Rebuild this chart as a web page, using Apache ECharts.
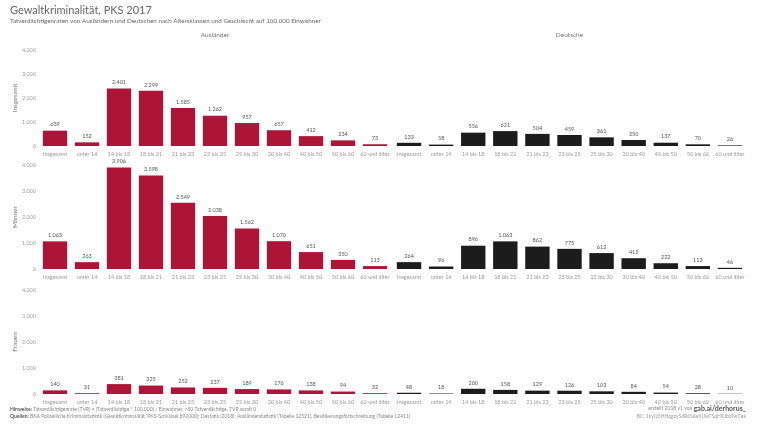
<!DOCTYPE html>
<html><head><meta charset="utf-8">
<script src="https://cdn.jsdelivr.net/npm/echarts@6/dist/echarts.min.js"></script>
<style>html,body{margin:0;padding:0;background:#fff}#c{width:768px;height:432px}</style>
</head><body><div id="c"></div>
<script>
const categories = ['Insgesamt','unter 14','14 bis 18','18 bis 21','21 bis 23','23 bis 25','25 bis 30','30 bis 40','40 bis 50','50 bis 60','60 und älter'];
const rowNames = ['Insgesamt','Männer','Frauen'];
const colNames = ['Ausländer','Deutsche'];
const yTicks = [0, 1000, 2000, 3000, 4000];

const auslInsgesamt = [639, 152, 2401, 2299, 1585, 1262, 957, 657, 412, 234, 73];
const deutInsgesamt = [133, 58, 556, 621, 504, 459, 361, 250, 137, 70, 26];
const auslMaenner = [1063, 263, 3906, 3598, 2549, 2038, 1562, 1070, 651, 350, 113];
const deutMaenner = [264, 96, 896, 1063, 862, 775, 612, 415, 222, 113, 46];
const auslFrauen = [140, 31, 381, 325, 252, 237, 189, 176, 138, 94, 32];
const deutFrauen = [48, 18, 200, 158, 129, 126, 103, 84, 54, 28, 10];

const data = [[auslInsgesamt, deutInsgesamt],[auslMaenner, deutMaenner],[auslFrauen, deutFrauen]];
const colors = ['#AD1538', '#1C1C1C'];
const FONT = 'Lato';
const fmt = v => String(v).replace(/\B(?=(\d{3})+(?!\d))/g, '.');

const rowTops = [50, 165, 290];
const rowHeights = [96, 104, 104];
const colLefts = [39, 393];
const colWidths = [352, 353];

const grid = [], xAxis = [], yAxis = [], series = [];
let idx = 0;
for (let r = 0; r < 3; r++) {
  for (let c = 0; c < 2; c++) {
    grid.push({left: colLefts[c], top: rowTops[r], width: colWidths[c], height: rowHeights[r], containLabel: false});
    xAxis.push({
      type: 'category', gridIndex: idx, data: categories,
      axisLine: {show: false}, axisTick: {show: false},
      axisLabel: {interval: 0, fontSize: 5.5, color: '#9a9a9a', fontFamily: FONT, margin: 5}
    });
    yAxis.push({
      type: 'value', gridIndex: idx, min: 0, max: 4000, interval: 1000,
      splitLine: {show: false}, axisLine: {show: false}, axisTick: {show: false},
      axisLabel: {show: c === 0, fontSize: 5.5, color: '#a0a0a0', fontFamily: FONT, margin: 3, formatter: v => fmt(v)},
      name: c === 0 ? rowNames[r] : '', nameLocation: 'middle', nameGap: 14, nameRotate: 90,
      nameTextStyle: {fontSize: 6.5, color: '#777', fontFamily: FONT}
    });
    series.push({
      type: 'bar', xAxisIndex: idx, yAxisIndex: idx, data: data[r][c],
      barWidth: '76%', itemStyle: {color: colors[c]},
      label: {show: true, position: 'top', distance: 3, fontSize: 5.5, color: '#555', fontFamily: FONT, formatter: p => fmt(p.value)},
      silent: true, animation: false
    });
    idx++;
  }
}

const chart = echarts.init(document.getElementById('c'), null, {renderer: 'canvas'});
chart.setOption({
  animation: false,
  textStyle: {fontFamily: FONT},
  grid, xAxis, yAxis, series,
  graphic: [
    {type: 'text', left: 10, top: 5, style: {text: 'Gewaltkriminalität, PKS 2017', font: '11px ' + FONT, fill: '#666'}},
    {type: 'text', left: 10, top: 18, style: {text: 'Tatverdächtigenraten von Ausländern und Deutschen nach Altersklassen und Geschlecht auf 100.000 Einwohner', font: '6.3px ' + FONT, fill: '#666'}},
    {type: 'text', x: colLefts[0] + colWidths[0] / 2, y: 31, style: {text: colNames[0], font: '6.5px ' + FONT, fill: '#777', align: 'center'}},
    {type: 'text', x: colLefts[1] + colWidths[1] / 2, y: 31, style: {text: colNames[1], font: '6.5px ' + FONT, fill: '#777', align: 'center'}},
    {type: 'text', left: 10, top: 406, style: {
      text: '{b|Hinweise:} Tatverdächtigenrate (TVR) = (Tatverdächtige * 100.000) / Einwohner, <50 Tatverdächtige, TVR somit 0\n{b|Quellen:} BKA Polizeiliche Kriminalstatistik (Gewaltkriminalität, PKS-Schlüssel 892000); Destatis (2018): Ausländerstatistik (Tabelle 12521), Bevölkerungsfortschreibung (Tabelle 12411)',
      font: '5px ' + FONT, fill: '#888', lineHeight: 7,
      rich: {b: {fontWeight: 'bold', fill: '#555', fontSize: 5, fontFamily: FONT}}
    }},
    {type: 'text', right: 22, top: 405, style: {
      text: 'erstellt 2018 v1 von {b|gab.ai/derhorus_}',
      font: '5px ' + FONT, fill: '#888', align: 'right',
      rich: {b: {fontWeight: 'bold', fill: '#555', fontSize: 7, fontFamily: FONT}}
    }},
    {type: 'text', right: 22, top: 414, style: {
      text: 'BC: 1xyQ5HHqgzySdR6S6eXUwTSqHXJbbTwCek',
      font: '5px ' + FONT, fill: '#999', align: 'right'
    }}
  ]
});
</script>
</body></html>
